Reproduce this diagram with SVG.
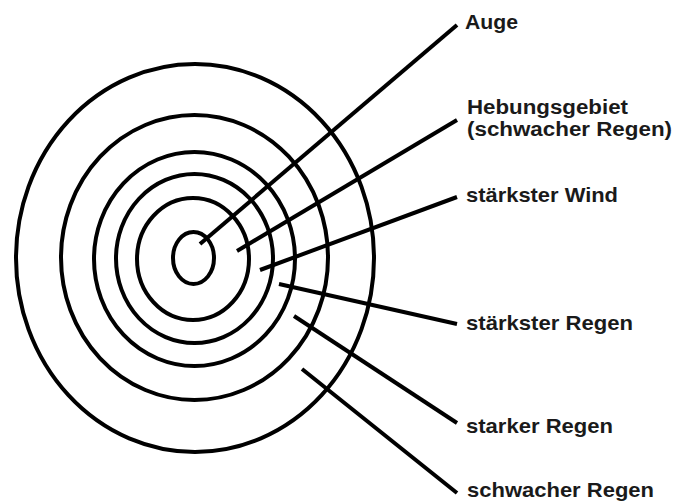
<svg xmlns="http://www.w3.org/2000/svg" width="685" height="504" viewBox="0 0 685 504">
<style>
.ring{fill:none;stroke:#000;stroke-width:4}
.conn line{stroke:#000;stroke-width:4;stroke-linecap:butt}
.lbl{font-family:"Liberation Sans",Arial,sans-serif;font-weight:bold;font-size:21px;fill:#1a1a1a}
.sm{font-size:20px}
</style>
<rect width="685" height="504" fill="#fff"/>
<g id="rings">
<ellipse class="ring" cx="195" cy="258" rx="179" ry="194"/>
<ellipse class="ring" cx="194.5" cy="257.5" rx="133.5" ry="142.5"/>
<ellipse class="ring" cx="194.5" cy="259" rx="100.5" ry="107"/>
<ellipse class="ring" cx="194.5" cy="258.5" rx="78.5" ry="84.5"/>
<ellipse class="ring" cx="193" cy="259" rx="56" ry="61"/>
<ellipse class="ring" cx="193.5" cy="258" rx="20.5" ry="26"/>
</g>
<g id="connectors" class="conn">
<line x1="200" y1="244" x2="457" y2="25"/>
<line x1="237" y1="251" x2="457" y2="120"/>
<line x1="260" y1="270" x2="457" y2="197"/>
<line x1="279" y1="284" x2="457" y2="324"/>
<line x1="294" y1="316" x2="457" y2="423"/>
<line x1="302" y1="369" x2="457" y2="493"/>
</g>
<g id="auge"><text class="lbl" x="465" y="29" textLength="53" lengthAdjust="spacingAndGlyphs">Auge</text></g>
<g id="hebung"><text class="lbl sm" x="467" y="114" textLength="161" lengthAdjust="spacingAndGlyphs">Hebungsgebiet</text><text class="lbl sm" x="467" y="136" textLength="205" lengthAdjust="spacingAndGlyphs">(schwacher Regen)</text></g>
<g id="wind"><text class="lbl" x="466" y="202" textLength="152" lengthAdjust="spacingAndGlyphs">stärkster Wind</text></g>
<g id="staerkster-regen"><text class="lbl" x="466" y="330" textLength="167" lengthAdjust="spacingAndGlyphs">stärkster Regen</text></g>
<g id="starker-regen"><text class="lbl" x="466" y="433" textLength="147" lengthAdjust="spacingAndGlyphs">starker Regen</text></g>
<g id="schwacher-regen"><text class="lbl" x="467" y="497" textLength="187" lengthAdjust="spacingAndGlyphs">schwacher Regen</text></g>
</svg>
